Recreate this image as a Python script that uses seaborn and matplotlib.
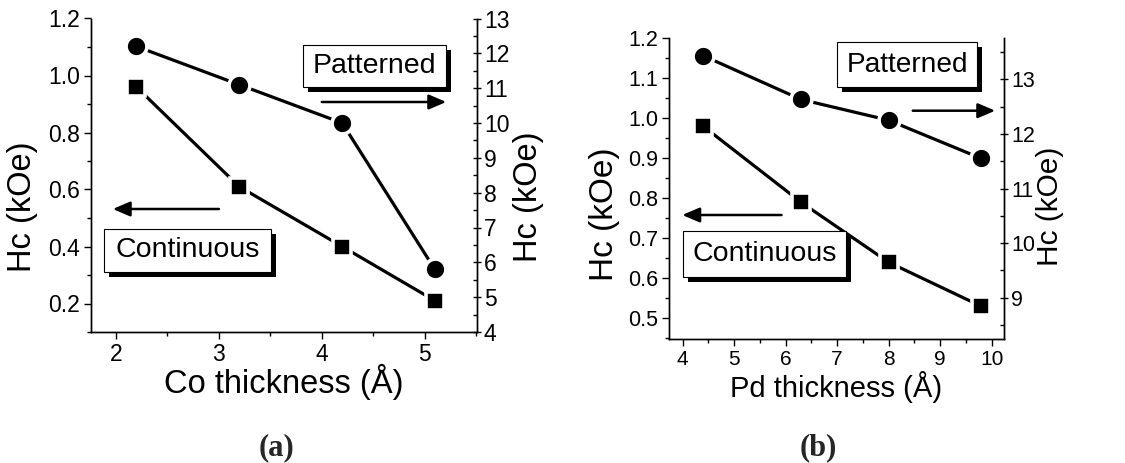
import numpy as np
import pandas as pd
import seaborn as sns
import matplotlib
matplotlib.use("Agg")
import matplotlib.pyplot as plt
from matplotlib.patches import Rectangle
from matplotlib.ticker import MultipleLocator

# ---------------- data ----------------
co_thickness = [2.2, 3.2, 4.2, 5.1]
co_continuous = [0.96, 0.61, 0.40, 0.21]      # left axis (kOe)
co_patterned = [12.2, 11.1, 10.0, 5.8]        # right axis (kOe)

pd_thickness = [4.4, 6.3, 8.0, 9.8]
pd_continuous = [0.98, 0.79, 0.64, 0.53]      # left axis (kOe)
pd_patterned = [13.43, 12.63, 12.25, 11.55]   # right axis (kOe)

# ---------------- style ----------------
sns.set_style("ticks")
plt.rcParams['font.family'] = ['Liberation Sans', 'DejaVu Sans']
plt.rcParams['axes.linewidth'] = 1.0

W, H = 1125, 463
fig = plt.figure(figsize=(W / 100, H / 100), dpi=100)


def ax_rect(x0, y0, x1, y1):
    return [x0 / W, 1 - y1 / H, (x1 - x0) / W, (y1 - y0) / H]


def draw_series(ax, x, y, marker, ms):
    sns.lineplot(x=x, y=y, ax=ax, color='black', lw=2.3, marker=marker,
                 ms=ms, mfc='black', mec='white', mew=2.6, zorder=3)


def style_axes(ax, axr, xmaj, ymaj, yrmaj, fs, xfs, xpad):
    for a in (ax, axr):
        for s in a.spines.values():
            s.set_color('black')
            s.set_linewidth(1.0)
    ax.spines['top'].set_visible(False)
    axr.spines['top'].set_visible(False)
    ax.xaxis.set_major_locator(MultipleLocator(xmaj))
    ax.xaxis.set_minor_locator(MultipleLocator(xmaj / 2))
    ax.yaxis.set_major_locator(MultipleLocator(ymaj))
    ax.yaxis.set_minor_locator(MultipleLocator(ymaj / 2))
    axr.yaxis.set_major_locator(MultipleLocator(yrmaj))
    axr.yaxis.set_minor_locator(MultipleLocator(yrmaj / 2))
    ax.tick_params(axis='both', which='major', direction='out', length=5,
                   width=1, labelsize=fs, colors='black', pad=3)
    ax.tick_params(axis='x', which='major', labelsize=xfs, pad=xpad)
    ax.tick_params(axis='both', which='minor', direction='out', length=3,
                   width=1, colors='black')
    ax.tick_params(axis='x', which='both', top=False)
    ax.tick_params(axis='y', which='both', right=False)
    axr.tick_params(axis='y', which='major', direction='inout', length=6,
                    width=1, labelsize=fs, colors='black', pad=2)
    axr.tick_params(axis='y', which='minor', direction='in', length=3,
                    width=1, colors='black')


def box(fig, x0, y0, x1, y1, text, fs):
    sh = 5
    fig.patches.append(Rectangle(((x0 + sh) / W, 1 - (y1 + sh) / H),
                                 (x1 - x0) / W, (y1 - y0) / H,
                                 transform=fig.transFigure, facecolor='black',
                                 edgecolor='none', zorder=10))
    fig.patches.append(Rectangle((x0 / W, 1 - y1 / H), (x1 - x0) / W, (y1 - y0) / H,
                                 transform=fig.transFigure, facecolor='white',
                                 edgecolor='black', lw=0.8, zorder=11))
    fig.text((x0 + x1) / 2 / W, 1 - (y0 + y1) / 2 / H, text, ha='center',
             va='center', fontsize=fs, color='black', zorder=12)


def arrow(fig, xs, xe, y):
    fig.add_artist(matplotlib.patches.FancyArrowPatch(
        (xs / W, 1 - y / H), (xe / W, 1 - y / H), transform=fig.transFigure,
        arrowstyle='-|>,head_length=7,head_width=3', mutation_scale=1.5,
        color='black', lw=1.8, zorder=12))


def place_labels(ax, axr, rect, xl, yl, yr):
    x0, y0, x1, y1 = rect
    w, h = x1 - x0, y1 - y0
    ax.xaxis.label.set_va('center')
    ax.yaxis.label.set_va('center')
    axr.yaxis.label.set_va('center')
    ax.xaxis.set_label_coords((xl[0] - x0) / w, (y1 - xl[1]) / h)
    ax.yaxis.set_label_coords((yl[0] - x0) / w, (y1 - yl[1]) / h)
    axr.yaxis.set_label_coords((yr[0] - x0) / w, (y1 - yr[1]) / h)


# ---------------- panel (a) ----------------
rect_a = (91, 18.5, 477, 332)
axa = fig.add_axes(ax_rect(*rect_a))
axa_r = axa.twinx()
draw_series(axa, co_thickness, co_continuous, 's', 13.5)
draw_series(axa_r, co_thickness, co_patterned, 'o', 15)
axa.set_xlim(1.76, 5.51)
axa.set_ylim(0.1, 1.2)
axa_r.set_ylim(4, 13)
style_axes(axa, axa_r, 1, 0.2, 1, 16.5, 16.5, 3)
axa.set_xticks([2, 3, 4, 5])
axa.set_xlabel('Co thickness (Å)', fontsize=23.5, color='black')
axa.set_ylabel('Hc (kOe)', fontsize=23.5, color='black')
axa_r.set_ylabel('Hc (kOe)', fontsize=23.5, color='black')
place_labels(axa, axa_r, rect_a, (283.5, 382), (23, 207), (528, 197))

# ---------------- panel (b) ----------------
rect_b = (669.3, 38.3, 1004, 339.3)
axb = fig.add_axes(ax_rect(*rect_b))
axb_r = axb.twinx()
draw_series(axb, pd_thickness, pd_continuous, 's', 13.5)
draw_series(axb_r, pd_thickness, pd_patterned, 'o', 15)
axb.set_xlim(3.74, 10.24)
axb.set_ylim(0.4475, 1.2)
axb_r.set_ylim(8.24, 13.75)
style_axes(axb, axb_r, 1, 0.1, 1, 15.5, 15, 3)
axb.set_xlabel('Pd thickness (Å)', fontsize=21, color='black')
axb.set_ylabel('Hc (kOe)', fontsize=24, color='black')
axb_r.set_ylabel('Hc (kOe)', fontsize=21.5, color='black')
place_labels(axb, axb_r, rect_b, (836.5, 387), (605, 214), (1050, 206))

for a in (axa, axa_r, axb, axb_r):
    a.grid(False)

# ---------------- annotations ----------------
box(fig, 302.7, 45, 445.7, 87, 'Patterned', 20.5)
arrow(fig, 319, 449, 102)
box(fig, 104, 228.7, 270.7, 271.7, 'Continuous', 20.5)
arrow(fig, 221.7, 110, 209)

box(fig, 837.3, 41.7, 977, 87.3, 'Patterned', 20.2)
arrow(fig, 910, 998, 110.7)
box(fig, 682.7, 230.7, 845.7, 276.7, 'Continuous', 20.5)
arrow(fig, 784.3, 679.5, 215)

fig.text(277 / W, 1 - 448 / H, '(a)', ha='center', va='center', fontsize=22,
         fontweight='bold', family=['Liberation Serif', 'DejaVu Serif'])
fig.text(818 / W, 1 - 448 / H, '(b)', ha='center', va='center', fontsize=22,
         fontweight='bold', family=['Liberation Serif', 'DejaVu Serif'])

fig.savefig('out.png', dpi=100, facecolor='white')
